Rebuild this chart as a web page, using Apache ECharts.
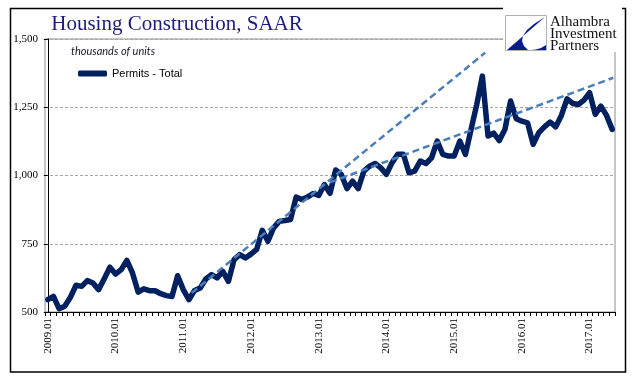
<!DOCTYPE html>
<html><head><meta charset="utf-8">
<script src="https://cdn.jsdelivr.net/npm/echarts@6/dist/echarts.min.js"></script>
<style>html,body{margin:0;padding:0;background:#fff}#c{width:641px;height:381px}</style>
</head><body><div id="c"></div>
<script>
// Monthly categories, 2009.01 .. 2017.05
const startYear = 2009, monthCount = 101;
const categories = [];
for (let k = 0; k < monthCount; k++) {
  const y = startYear + Math.floor(k / 12), m = k % 12 + 1;
  categories.push(y + '.' + (m < 10 ? '0' : '') + m);
}
// Building permits, total, SAAR (thousands of units)
const permitsTotal = [
  545, 557, 512, 521, 554, 598, 594, 615, 606, 582, 622, 664,
  639, 655, 689, 643, 573, 585, 578, 578, 567, 560, 557, 633,
  582, 545, 579, 588, 621, 637, 625, 649, 612, 692, 710, 698,
  712, 729, 799, 759, 808, 832, 835, 839, 921, 912, 921, 934,
  927, 967, 935, 1020, 1004, 952, 979, 952, 1016, 1034, 1044, 1028,
  1004, 1047, 1078, 1078, 1010, 1016, 1053, 1044, 1065, 1126, 1077, 1071,
  1071, 1126, 1077, 1169, 1260, 1364, 1145, 1155, 1128, 1169, 1273, 1208,
  1199, 1193, 1114, 1157, 1178, 1196, 1178, 1220, 1281, 1264, 1260, 1276,
  1303, 1224, 1254, 1220, 1169
];
const yTicks = [500, 750, 1000, 1250, 1500];
// Trend arrows: [month index, value] start and end
const arrowUpper = [[25.5, 570], [77.5, 1450]];
const arrowLower = [[50, 975], [100.2, 1358]];

const chart = echarts.init(document.getElementById('c'), null, {renderer: 'canvas'});
const arrowColor = '#4a7ebb';
function arrowSeries(pts) {
  return {
    type: 'line', xAxisIndex: 1, yAxisIndex: 0, data: pts, symbol: 'none',
    lineStyle: {opacity: 0}, silent: true, z: 5, animation: false,
    markLine: {
      silent: true, animation: false, symbol: ['none', 'arrow'], symbolSize: [0, 9],
      label: {show: false},
      lineStyle: {type: [7, 4], color: arrowColor, width: 2.5},
      emphasis: {disabled: true},
      data: [[{coord: pts[0]}, {coord: pts[1]}]]
    }
  };
}
const option = {
  animation: false,
  backgroundColor: '#fff',
  grid: {left: 45, right: 26, top: 39, bottom: 69, show: true, borderColor: '#8c8c8c', borderWidth: 1},
  legend: {
    left: 78, top: 68, data: ['Permits - Total'], icon: 'roundRect', itemWidth: 29, itemHeight: 6,
    itemGap: 5, padding: 0,
    textStyle: {fontFamily: 'Liberation Sans', fontSize: 11, color: '#000'}
  },
  xAxis: [{
    type: 'category', data: categories, boundaryGap: true,
    axisLine: {show: true, lineStyle: {color: '#000', width: 1}},
    axisTick: {show: true, interval: 0, length: 4, lineStyle: {color: '#000'}},
    axisLabel: {
      interval: (idx) => idx % 12 === 0, rotate: 90, margin: 6,
      fontFamily: 'Liberation Serif', fontSize: 11, color: '#000'
    },
    splitLine: {show: false}
  }, {
    type: 'value', min: -0.5, max: monthCount - 0.5, show: false
  }],
  yAxis: [{
    type: 'value', min: yTicks[0], max: yTicks[yTicks.length - 1], interval: 250,
    axisLine: {show: true, lineStyle: {color: '#000', width: 1}},
    axisTick: {show: true, length: 4, lineStyle: {color: '#000'}},
    axisLabel: {
      margin: 7, fontFamily: 'Liberation Serif', fontSize: 11, color: '#000',
      formatter: (v) => v.toLocaleString('en-US')
    },
    splitLine: {show: true, lineStyle: {color: '#a6a6a6', type: [3, 2], width: 1}}
  }],
  series: [{
    name: 'Permits - Total', type: 'line', data: permitsTotal, symbol: 'none',
    itemStyle: {color: '#00205f'},
    lineStyle: {color: '#00205f', width: 5.5, join: 'round', cap: 'round'},
    z: 3
  }, arrowSeries(arrowUpper), arrowSeries(arrowLower)],
  graphic: [
    {type: 'rect', shape: {x: 10.5, y: 8.5, width: 615, height: 363.5}, style: {fill: 'none', stroke: '#000', lineWidth: 1.5}, z: 100},
    {type: 'rect', shape: {x: 503, y: 0, width: 119, height: 52}, style: {fill: '#fff'}, z: 101},
    {type: 'rect', shape: {x: 505.5, y: 15.5, width: 41, height: 35}, style: {fill: '#fff', stroke: '#b0b0b0', lineWidth: 1}, z: 102},
    {type: 'polygon', shape: {points: [[545,17],[507,50],[528,50],[524,46],[522,41],[523,36],[527,30],[534,24]]}, style: {fill: '#0a1a8a'}, z: 103},
    {type: 'polygon', shape: {points: [[531,50],[546,50],[546,45],[541,48],[536,49.5]]}, style: {fill: '#0a1a8a'}, z: 103},
    {type: 'text', x: 550, y: 22, z: 103, style: {text: 'Alhambra', fontFamily: 'Liberation Serif', fontSize: 15, fill: '#111', verticalAlign: 'middle'}},
    {type: 'text', x: 550, y: 34, z: 103, style: {text: 'Investment', fontFamily: 'Liberation Serif', fontSize: 15, fill: '#111', verticalAlign: 'middle'}},
    {type: 'text', x: 550, y: 46, z: 103, style: {text: 'Partners', fontFamily: 'Liberation Serif', fontSize: 15, fill: '#111', verticalAlign: 'middle'}},
    {type: 'text', x: 177, y: 24, z: 103, style: {text: 'Housing Construction, SAAR', fontFamily: 'Liberation Serif', fontSize: 21, fill: '#1d1d7a', align: 'center', verticalAlign: 'middle'}},
    {type: 'text', x: 71, y: 51, z: 103, style: {text: 'thousands of units', fontFamily: 'Lato', fontStyle: 'italic', fontSize: 11, fill: '#1a1a2a', verticalAlign: 'middle'}}
  ]
};
chart.setOption(option);
</script>
</body></html>
